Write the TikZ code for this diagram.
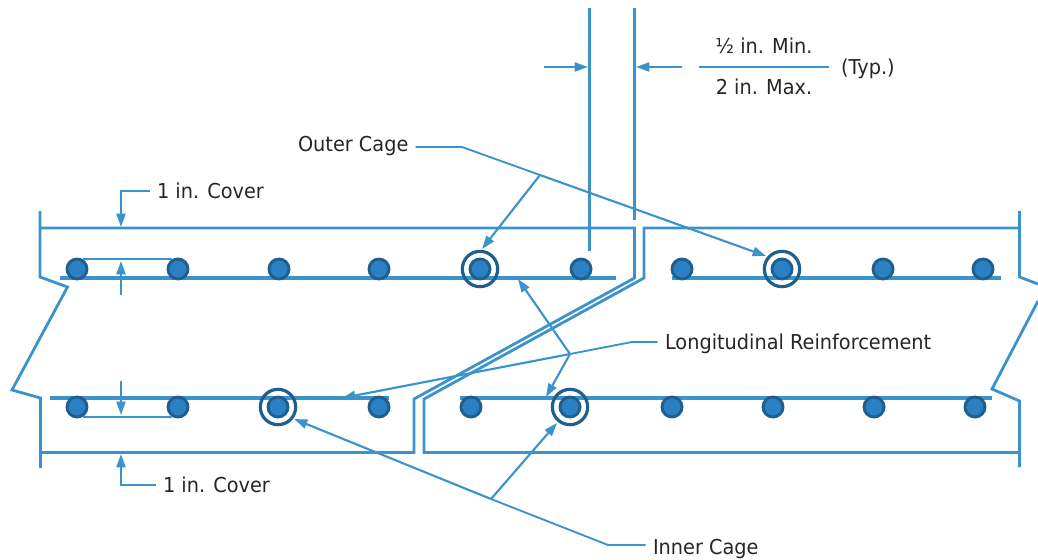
\documentclass[tikz,border=0pt]{standalone}
\usepackage{fontspec}
\setmainfont[FakeStretch=0.94]{DejaVu Sans}
\usepackage{xcolor}
\usetikzlibrary{arrows.meta}
\definecolor{wallBlue}{HTML}{3B93CB}
\definecolor{barBlue}{HTML}{2A80C2}
\definecolor{ringBlue}{HTML}{1F5F8F}
\definecolor{labelGray}{HTML}{262626}
\tikzset{
	wall/.style={line width=2.1pt, wallBlue, line join=miter},
	mat/.style={line width=2.5pt, wallBlue},
	tie/.style={line width=1.7pt, wallBlue},
	leader/.style={line width=1.4pt, wallBlue},
	tipped/.style={line width=1.6pt, wallBlue, arrows={-Triangle[length=10pt,width=6.8pt]}},
	rebar/.style={circle, draw=ringBlue, fill=barBlue, line width=2.2pt, minimum size=15pt, inner sep=0pt},
	ring/.style={circle, draw=ringBlue, line width=2.4pt, minimum size=26.5pt, inner sep=0pt},
	lbl/.style={text=labelGray, font=\fontsize{15.4}{18}\selectfont, inner sep=0pt, outer sep=5.5pt, text height=11.5pt, text depth=0.3pt}
}
\def\px{0.75pt}

\begin{document}
\begin{tikzpicture}[x=\px, y=-\px]
	\useasboundingbox (0,0) rectangle (1038,560);

	% slab outlines
	\draw[wall] (40,211) -- (40,277) -- (67.5,287) -- (12,390) -- (40.5,398) -- (40.5,468);
	\draw[wall] (40,228) -- (634.5,228) -- (634.5,278) -- (414,399) -- (414,452.5) -- (40,452.5);
	\draw[wall] (1019.5,228) -- (644,228) -- (644,278) -- (424,399) -- (424,452.5) -- (1019.5,452.5);
	\draw[wall] (1019.5,211) -- (1019.5,277) -- (1038,284);
	\draw[wall] (1038,301) -- (992,389) -- (1019.5,401) -- (1019.5,467);

	% upper wall
	\draw[wall] (589.5,8) -- (589.5,251);
	\draw[wall] (634.5,8) -- (634.5,220);

	% mats
	\draw[mat] (60,278) -- (616,278);
	\draw[mat] (672,278) -- (1001,278);
	\draw[mat] (50,398) -- (389,398);
	\draw[mat] (460,398) -- (992,398);

	% rebars
	\node[rebar] (T1) at (77,269) {};
	\node[rebar] (T2) at (178,269) {};
	\node[rebar] (T3) at (279,269) {};
	\node[rebar] (T4) at (379,269) {};
	\node[rebar] (T5) at (480,269) {};
	\node[rebar] (T6) at (581,269) {};
	\node[rebar] (T7) at (682,269) {};
	\node[rebar] (T8) at (782,269) {};
	\node[rebar] (T9) at (883,269) {};
	\node[rebar] (T10) at (983,269) {};
	\node[rebar] (B1) at (77,407) {};
	\node[rebar] (B2) at (178,407) {};
	\node[rebar] (B3) at (278,407) {};
	\node[rebar] (B4) at (379,407) {};
	\node[rebar] (B5) at (471,407) {};
	\node[rebar] (B6) at (570,407) {};
	\node[rebar] (B7) at (672,407) {};
	\node[rebar] (B8) at (773,407) {};
	\node[rebar] (B9) at (874,407) {};
	\node[rebar] (B10) at (975,407) {};

	\node[ring] (ringOuterL) at (T5) {};
	\node[ring] (ringOuterR) at (T8) {};
	\node[ring] (ringInnerL) at (B3) {};
	\node[ring] (ringInnerR) at (B6) {};

	% ties
	\draw[tie] (T1.60) -- (T2.120);
	\draw[tie] (B1.-60) -- (B2.-120);

	% labels
	\node[lbl, anchor=west] (lblOuter) at (290.7,144.5) {Outer Cage};
	\node[lbl, anchor=west] (lblLong) at (657.7,342) {Longitudinal Reinforcement};
	\node[lbl, anchor=west] (lblInner) at (645.7,547) {Inner Cage};
	\node[lbl, anchor=west] (lblTop) at (149.7,191) {1 in. Cover};
	\node[lbl, anchor=west] (lblBot) at (155.7,485) {1 in. Cover};
	\node[lbl] (lblMin) at (764,46) {½ in. Min.};
	\node[lbl] (lblMax) at (764,87) {2 in. Max.};
	\node[lbl, anchor=west] (lblTyp) at (833.7,67) {(Typ.)};

	% outer cage leaders
	\coordinate (outerKnee) at (462,147);
	\coordinate (outerFork) at (540,175);
	\draw[leader] (lblOuter.east |- outerKnee) -- (outerKnee) -- (outerFork);
	\draw[tipped] (outerFork) -- (766,256);
	\draw[tipped] (outerFork) -- (482,249);

	% longitudinal leaders
	\coordinate (longKnee) at (632,342);
	\coordinate (longFork) at (570,354);
	\draw[leader] (lblLong.west) -- (longKnee) -- (longFork);
	\draw[tipped] (longFork) -- (342,398);
	\draw[tipped] (longFork) -- (518,279);
	\draw[tipped] (longFork) -- (546,397);

	% inner cage leaders
	\coordinate (innerKnee) at (608,545);
	\coordinate (innerFork) at (491,499);
	\draw[leader] (lblInner.west |- innerKnee) -- (innerKnee) -- (innerFork);
	\draw[tipped] (innerFork) -- (294,419);
	\draw[tipped] (innerFork) -- (557,423);

	% cover
	\coordinate (topKnee) at (121,191);
	\coordinate (botKnee) at (121,485);
	\coordinate (topTip) at (121,227);
	\coordinate (botTip) at (121,454);
	\draw[tipped] (lblTop.west) -- (topKnee) -- (topTip);
	\draw[tipped] (lblBot.west) -- (botKnee) -- (botTip);
	\coordinate (upFree) at (121,295);
	\coordinate (upTip) at (121,261);
	\coordinate (downFree) at (121,381);
	\coordinate (downTip) at (121,415);
	\draw[tipped] (upFree) -- (upTip);
	\draw[tipped] (downFree) -- (downTip);

	% spacing dimension
	\coordinate (dimL) at (544,67);
	\coordinate (dimLtip) at (588,67);
	\coordinate (dimR) at (682,67);
	\coordinate (dimRtip) at (636,67);
	\draw[tipped] (dimL) -- (dimLtip);
	\draw[tipped] (dimR) -- (dimRtip);
	\coordinate (fracL) at (699,67);
	\coordinate (fracR) at (829,67);
	\draw[tie] (fracL) -- (fracR);
\end{tikzpicture}
\end{document}
